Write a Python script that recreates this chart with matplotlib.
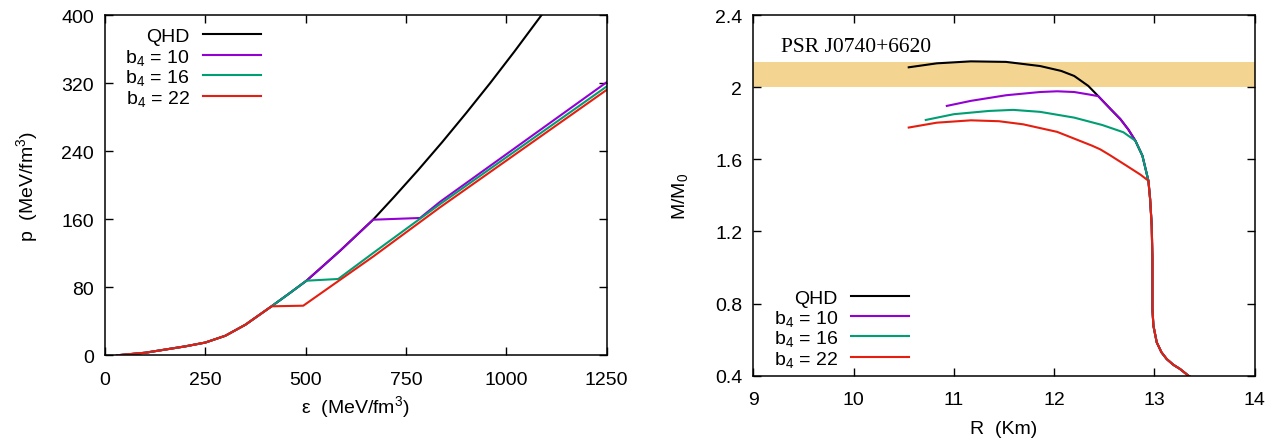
import matplotlib
matplotlib.use("Agg")
import matplotlib.pyplot as plt
import matplotlib.transforms as mtransforms
from matplotlib.ticker import FuncFormatter

plt.rcParams['font.family'] = ['Liberation Sans', 'DejaVu Sans']
plt.rcParams['mathtext.fontset'] = 'custom'
plt.rcParams['mathtext.rm'] = 'Liberation Sans'
plt.rcParams['mathtext.it'] = 'Liberation Sans:italic'

# ---- EoS panel: pressure vs energy density (MeV/fm^3) ----
qhd_eps = [30, 100, 156, 200, 250, 300, 350, 415, 460, 502, 544, 586, 668, 720, 780, 840, 900, 960, 1020, 1090, 1130]
qhd_p = [0, 3, 7.2, 10.5, 15, 23, 36, 57.6, 73, 87.7, 105.3, 123, 159.4, 186, 217.6, 250.5, 284.8, 320.2, 357, 401.4, 427.5]

b10_eps = [30, 100, 156, 200, 250, 300, 350, 415, 460, 502, 544, 586, 668, 785, 835, 1250]
b10_p = [0, 3, 7.2, 10.5, 15, 23, 36, 57.6, 73, 87.7, 105.3, 123, 159.4, 161.4, 180.5, 321]

b16_eps = [30, 100, 156, 200, 250, 300, 350, 415, 460, 502, 581, 668, 835, 1250]
b16_p = [0, 3, 7.2, 10.5, 15, 23, 36, 57.6, 73, 87.7, 89.7, 120.2, 177.8, 316]

b22_eps = [30, 100, 156, 200, 250, 300, 350, 415, 494, 668, 835, 1250]
b22_p = [0, 3, 7.2, 10.5, 15, 23, 36, 57.6, 58.3, 116, 174, 312]

# ---- mass-radius panel ----
qhd_R = [10.55, 10.83, 11.17, 11.52, 11.86, 12.07, 12.2, 12.34, 12.44, 12.56, 12.66, 12.74, 12.81,
         12.88, 12.94, 12.957, 12.973, 12.98, 12.98, 12.99, 13.023, 13.07, 13.123, 13.19, 13.256, 13.339, 13.4]
qhd_M = [2.11, 2.132, 2.143, 2.14, 2.117, 2.09, 2.062, 2.007, 1.95, 1.88, 1.823, 1.765, 1.703,
         1.62, 1.481, 1.38, 1.232, 1.047, 0.77, 0.677, 0.585, 0.53, 0.492, 0.46, 0.437, 0.4, 0.38]

b10_R = [10.93, 11.17, 11.52, 11.86, 12.03, 12.2, 12.34, 12.44, 12.56, 12.66, 12.74, 12.81,
         12.88, 12.94, 12.957, 12.973, 12.98, 12.98, 12.99, 13.023, 13.07, 13.123, 13.19, 13.256, 13.339, 13.4]
b10_M = [1.896, 1.924, 1.955, 1.973, 1.977, 1.973, 1.96, 1.95, 1.88, 1.823, 1.765, 1.703,
         1.62, 1.481, 1.38, 1.232, 1.047, 0.77, 0.677, 0.585, 0.53, 0.492, 0.46, 0.437, 0.4, 0.38]

b16_R = [10.72, 11.0, 11.35, 11.59, 11.86, 12.2, 12.48, 12.69, 12.81,
         12.88, 12.94, 12.957, 12.973, 12.98, 12.98, 12.99, 13.023, 13.07, 13.123, 13.19, 13.256, 13.339, 13.4]
b16_M = [1.818, 1.85, 1.868, 1.874, 1.863, 1.831, 1.79, 1.75, 1.703,
         1.62, 1.481, 1.38, 1.232, 1.047, 0.77, 0.677, 0.585, 0.53, 0.492, 0.46, 0.437, 0.4, 0.38]

b22_R = [10.55, 10.83, 11.17, 11.45, 11.69, 12.03, 12.38, 12.46, 12.55, 12.72, 12.86,
         12.94, 12.957, 12.973, 12.98, 12.98, 12.99, 13.023, 13.07, 13.123, 13.19, 13.256, 13.339, 13.4]
b22_M = [1.776, 1.803, 1.816, 1.811, 1.794, 1.752, 1.675, 1.655, 1.625, 1.565, 1.515,
         1.481, 1.38, 1.232, 1.047, 0.77, 0.677, 0.585, 0.53, 0.492, 0.46, 0.437, 0.4, 0.38]

psr_band = [2.0, 2.14]

labels = ['QHD', r'b$_{\mathrm{4}}$ = 10', r'b$_{\mathrm{4}}$ = 16', r'b$_{\mathrm{4}}$ = 22']
colors = ['black', '#9400d3', '#009e73', '#e51e10']

fig = plt.figure(figsize=(12.77, 4.39), dpi=100)
ax1 = fig.add_axes([0.08222, 0.18838, 0.39287, 0.77517])
ax2 = fig.add_axes([0.58990, 0.14191, 0.39264, 0.82164])

lw = 1.5
eos = [(qhd_eps, qhd_p), (b10_eps, b10_p), (b16_eps, b16_p), (b22_eps, b22_p)]
for (x, y), c in zip(eos, colors):
    ax1.plot(x, y, color=c, lw=lw)

ax2.axhspan(psr_band[0], psr_band[1], color='#f3d591', lw=0, zorder=0)
mr = [(qhd_R, qhd_M), (b10_R, b10_M), (b16_R, b16_M), (b22_R, b22_M)]
for (x, y), c in zip(mr, colors):
    ax2.plot(x, y, color=c, lw=lw)

ax2.text(0.055, 0.900, 'PSR J0740+6620', transform=ax2.transAxes,
         family=['Liberation Serif', 'DejaVu Serif'], fontsize=15.5, ha='left', va='baseline')

ax1.set_xlim(0, 1250)
ax1.set_ylim(0, 400)
ax1.set_xticks([0, 250, 500, 750, 1000, 1250])
ax1.set_yticks([0, 80, 160, 240, 320, 400])
ax1.set_xlabel(r'ε  (MeV/fm$^{\mathrm{3}}$)', fontsize=14, labelpad=4)
ax1.set_ylabel(r'p  (MeV/fm$^{\mathrm{3}}$)', fontsize=14, labelpad=15)

ax2.set_xlim(9, 14)
ax2.set_ylim(0.4, 2.4)
ax2.set_xticks([9, 10, 11, 12, 13, 14])
ax2.set_yticks([0.4, 0.8, 1.2, 1.6, 2.0, 2.4])
ax2.yaxis.set_major_formatter(FuncFormatter(lambda v, pos: '%g' % round(v, 2)))
ax2.set_xlabel('R  (Km)', fontsize=14, labelpad=9)
ax2.set_ylabel(r'M/M$_{\mathrm{0}}$', fontsize=14, labelpad=18)

for ax in (ax1, ax2):
    ax.tick_params(direction='in', length=6, width=1, top=True, right=True, labelsize=14)
    ax.tick_params(axis='x', pad=11)
    ax.tick_params(axis='y', pad=8)
    for s in ax.spines.values():
        s.set_linewidth(1.1)

# gnuplot-style key: right-aligned text, sample line to the right
def draw_key(ax, rows):
    off = mtransforms.offset_copy(ax.transAxes, fig=fig, y=-5, units='points')
    for lab, c, y in zip(labels, colors, rows):
        ax.text(0.1687, y, lab, transform=off, ha='right', va='baseline', fontsize=14)
        ax.plot([0.1957, 0.3104], [y, y], transform=ax.transAxes, color=c, lw=lw)

draw_key(ax1, [0.943, 0.882, 0.823, 0.762])
draw_key(ax2, [0.2216, 0.1644, 0.109, 0.0526])

fig.savefig('out.png', dpi=100)
